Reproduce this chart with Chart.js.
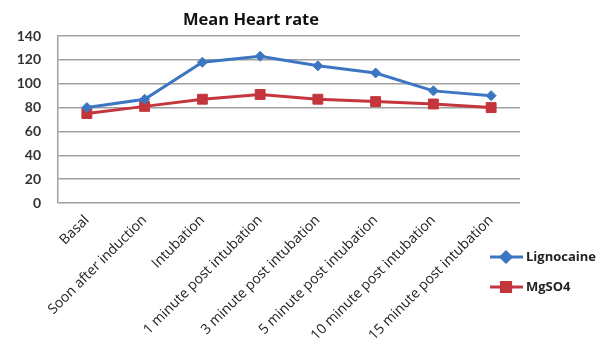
<!DOCTYPE html>
<html>
<head>
<meta charset="utf-8">
<script src="https://cdn.jsdelivr.net/npm/chart.js@4/dist/chart.umd.min.js"></script>
<style>
  html, body { margin: 0; padding: 0; background: #fff; }
  #wrap { width: 600px; height: 345px; position: relative; }
</style>
</head>
<body>
<div id="wrap"><canvas id="c" width="600" height="345"></canvas></div>
<script>
// Time points of measurement
const categories = [
  'Basal',
  'Soon after induction',
  'Intubation',
  '1 minute post intubation',
  '3 minute post intubation',
  '5 minute post intubation',
  '10 minute post intubation',
  '15 minute post intubation'
];

// Mean heart rate (beats/min) per group
const lignocaine = [80, 87, 118, 123, 115, 109, 94, 90];
const mgso4 = [75, 81, 87, 91, 87, 85, 83, 80];

const seriesNames = ['Lignocaine', 'MgSO4'];
const yTicks = [0, 20, 40, 60, 80, 100, 120, 140];

const BLUE = '#3c76c2';
const RED = '#c4363c';
const FONT = '"Open Sans", Lato, "DejaVu Sans", sans-serif';
const NUMFONT = 'Lato, "Open Sans", sans-serif';

// Title and legend drawn by hand so they can sit where the layout wants them
const decorations = {
  id: 'decorations',
  afterDraw(chart) {
    const ctx = chart.ctx;
    ctx.save();
    ctx.fillStyle = '#111';
    ctx.font = 'bold 16.5px ' + FONT;
    ctx.textAlign = 'center';
    ctx.textBaseline = 'middle';
    ctx.fillText('Mean Heart rate', 251, 20);

    const items = [
      { y: 257, color: BLUE, style: 'rectRot', r: 5 },
      { y: 287, color: RED, style: 'rect', r: 6.5 }
    ];
    items.forEach((it, i) => {
      ctx.strokeStyle = it.color;
      ctx.lineWidth = 3;
      ctx.beginPath();
      ctx.moveTo(490, it.y);
      ctx.lineTo(523, it.y);
      ctx.stroke();
      ctx.fillStyle = it.color;
      Chart.helpers.drawPoint(ctx, { pointStyle: it.style, radius: it.r, borderWidth: 1 }, 506, it.y);
      ctx.fill();
      ctx.fillStyle = '#222';
      ctx.font = 'bold 13px ' + FONT;
      ctx.textAlign = 'left';
      ctx.fillText(seriesNames[i], 526, it.y);
    });
    ctx.restore();
  }
};

new Chart(document.getElementById('c'), {
  type: 'line',
  data: {
    labels: categories,
    datasets: [
      {
        label: seriesNames[0],
        data: lignocaine,
        borderColor: BLUE,
        backgroundColor: BLUE,
        borderWidth: 3,
        pointStyle: 'rectRot',
        pointRadius: 5,
        pointBorderWidth: 1,
        tension: 0
      },
      {
        label: seriesNames[1],
        data: mgso4,
        borderColor: RED,
        backgroundColor: RED,
        borderWidth: 3,
        pointStyle: 'rect',
        pointRadius: 7,
        pointBorderWidth: 1,
        tension: 0
      }
    ]
  },
  options: {
    responsive: false,
    animation: false,
    layout: { padding: { top: 36, right: 80, left: 0, bottom: 0 } },
    plugins: {
      legend: { display: false },
      title: { display: false },
      tooltip: { enabled: false }
    },
    scales: {
      x: {
        offset: true,
        grid: { display: false, drawTicks: false },
        border: { display: false },
        ticks: {
          minRotation: 45,
          maxRotation: 45,
          autoSkip: false,
          padding: 9,
          color: '#222',
          font: { family: FONT, size: 14 }
        },
        afterFit(scale) { scale.height = 142; }
      },
      y: {
        min: 0,
        max: 140,
        afterBuildTicks(scale) { scale.ticks = yTicks.map(v => ({ value: v })); },
        grid: { color: '#a0a0a0', lineWidth: 1.5, drawTicks: false },
        border: { display: true, color: '#a0a0a0', width: 1.5 },
        ticks: {
          padding: 17,
          color: '#333',
          font: { family: NUMFONT, size: 14, weight: 'bold' }
        },
        afterFit(scale) { scale.width = 58; }
      }
    }
  },
  plugins: [decorations]
});
</script>
</body>
</html>
